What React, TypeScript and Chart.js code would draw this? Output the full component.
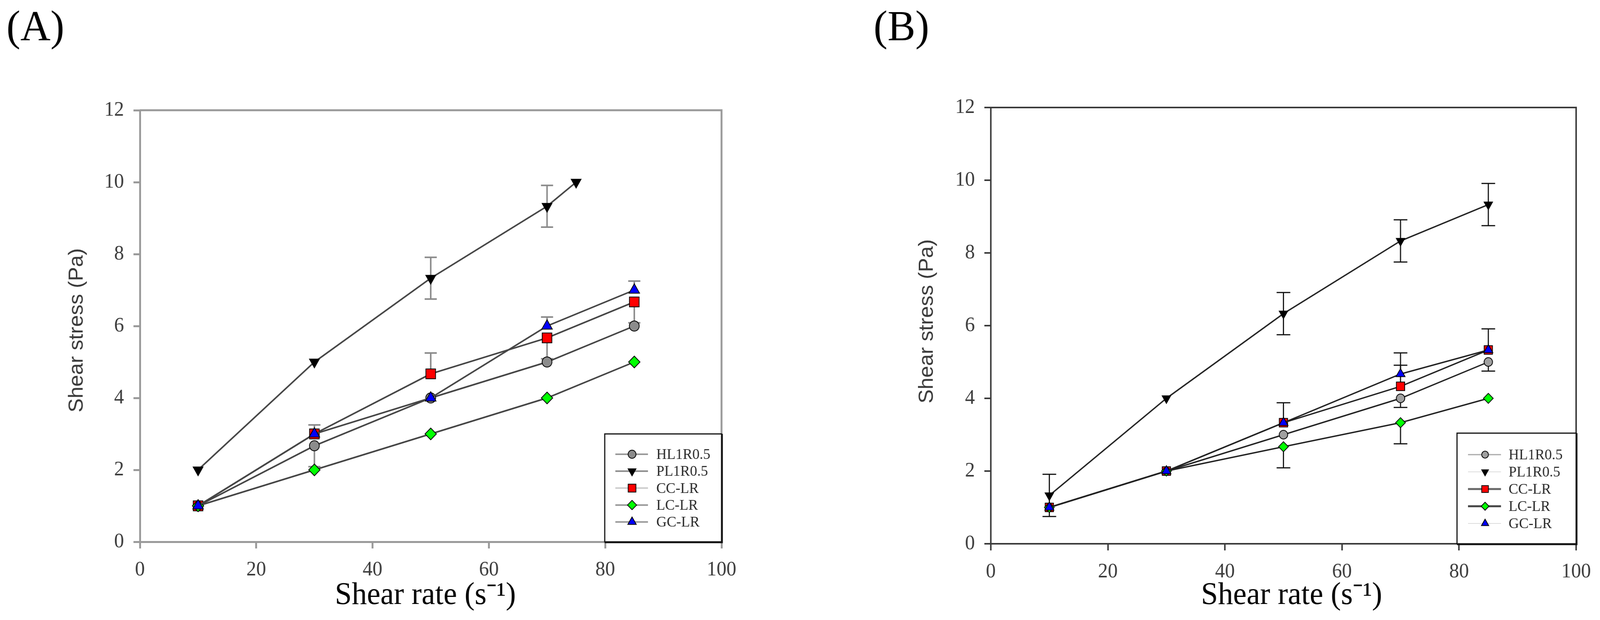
import { useEffect, useRef, useState } from "react";
import { Chart, registerables } from "chart.js";

Chart.register(...registerables);

// ---- data ----
const seriesNames = ["HL1R0.5", "PL1R0.5", "CC-LR", "LC-LR", "GC-LR"];
const shearRates = [10, 30, 50, 70, 85];
const shearRatesPlA = [10, 30, 50, 70, 75];
const xTicks = [0, 20, 40, 60, 80, 100];
const yTicks = [0, 2, 4, 6, 8, 10, 12];

// panel A
const hlA = [1, 2.67, 4, 5, 6];
const hlUpA = [0, 0, 0, 0, 0];
const hlDownA = [0, 0.58, 0, 0, 0];
const plA = [2, 5, 7.33, 9.33, 10];
const plUpA = [0, 0, 0.58, 0.58, 0];
const plDownA = [0, 0, 0.58, 0.58, 0];
const ccA = [1, 3, 4.67, 5.67, 6.67];
const ccUpA = [0, 0, 0.58, 0, 0];
const ccDownA = [0, 0, 0, 0.58, 0.58];
const lcA = [1, 2, 3, 4, 5];
const lcUpA = [0, 0, 0, 0, 0];
const lcDownA = [0, 0, 0, 0, 0];
const gcA = [1, 3, 4, 6, 7];
const gcUpA = [0, 0.25, 0, 0.25, 0.25];
const gcDownA = [0, 0, 0, 0, 0];

// panel B
const hlB = [1, 2, 3, 4, 5];
const hlUpB = [0, 0, 0, 0, 0];
const hlDownB = [0, 0, 0, 0.25, 0.25];
const plB = [1.33, 4, 6.33, 8.33, 9.33];
const plUpB = [0.58, 0, 0.58, 0.58, 0.58];
const plDownB = [0.58, 0, 0.58, 0.58, 0.58];
const ccB = [1, 2, 3.33, 4.33, 5.33];
const ccUpB = [0, 0, 0, 0.58, 0.58];
const ccDownB = [0, 0, 0, 0, 0];
const lcB = [1, 2, 2.67, 3.33, 4];
const lcUpB = [0, 0, 0, 0, 0];
const lcDownB = [0, 0, 0.58, 0.58, 0];
const gcB = [1, 2, 3.33, 4.67, 5.33];
const gcUpB = [0, 0, 0.55, 0.58, 0];
const gcDownB = [0, 0, 0, 0, 0];

// ---- styling ----
const SERIF = "'Liberation Serif', 'Times New Roman', serif";
const SANS = "'Liberation Sans', Arial, sans-serif";
const W = 4219;
const H = 1586;

type Style = "circle" | "triangle" | "rect" | "rectRot";

interface Series {
  name: string;
  xs: number[];
  ys: number[];
  up: number[];
  down: number[];
  style: Style;
  rotation: number;
  fill: string;
  radius: number;
}

interface PanelSpec {
  label: string;
  labelX: number;
  left: number;
  width: number;
  area: { left: number; right: number; top: number; bottom: number };
  axisColor: string;
  axisWidth: number;
  lineColor: string;
  lineWidth: number;
  errColor: string;
  errWidth: number;
  capWidth: number;
  markerScale: number;
  xTitleX: number;
  yTitleX: number;
  yTitleY: number;
  legend: { w: number; h: number; rowTop: number; rowStep: number; line0: number; line1: number; mark: number; text: number };
  legendLineColors: string[];
  legendLineWidths: number[];
  series: Series[];
}

function makeSeries(
  xsList: number[][],
  ys: number[][],
  up: number[][],
  down: number[][],
  hlFill: string
): Series[] {
  const styles: Style[] = ["circle", "triangle", "rect", "rectRot", "triangle"];
  const rotations = [0, 180, 0, 0, 0];
  const fills = [hlFill, "#000000", "#ff0000", "#00ff00", "#0000ff"];
  const radii = [13, 15, 18, 15, 16];
  return seriesNames.map((name, i) => ({
    name,
    xs: xsList[i],
    ys: ys[i],
    up: up[i],
    down: down[i],
    style: styles[i],
    rotation: rotations[i],
    fill: fills[i],
    radius: radii[i],
  }));
}

const panelA: PanelSpec = {
  label: "(A)",
  labelX: 17,
  left: 0,
  width: 2110,
  area: { left: 369, right: 1903, top: 282, bottom: 1386 },
  axisColor: "#9a9a9a",
  axisWidth: 5,
  lineColor: "#454545",
  lineWidth: 4,
  errColor: "#8a8a8a",
  errWidth: 4,
  capWidth: 32,
  markerScale: 1,
  xTitleX: 1122,
  yTitleX: 218,
  yTitleY: 845,
  legend: { w: 308, h: 276, rowTop: 52, rowStep: 43.3, line0: 28, line1: 114, mark: 72, text: 136 },
  legendLineColors: ["#999999", "#8a8a8a", "#cccccc", "#999999", "#999999"],
  legendLineWidths: [4, 4, 4, 4, 4],
  series: makeSeries(
    [shearRates, shearRatesPlA, shearRates, shearRates, shearRates],
    [hlA, plA, ccA, lcA, gcA],
    [hlUpA, plUpA, ccUpA, lcUpA, gcUpA],
    [hlDownA, plDownA, ccDownA, lcDownA, gcDownA],
    "#8c8c8c"
  ),
};

const panelB: PanelSpec = {
  label: "(B)",
  labelX: 194,
  left: 2110,
  width: 2109,
  area: { left: 503, right: 2053, top: 275, bottom: 1391 },
  axisColor: "#3a3a3a",
  axisWidth: 4,
  lineColor: "#222222",
  lineWidth: 3.5,
  errColor: "#111111",
  errWidth: 3,
  capWidth: 36,
  markerScale: 0.86,
  xTitleX: 1296,
  yTitleX: 350,
  yTitleY: 822,
  legend: { w: 314, h: 283, rowTop: 55, rowStep: 44, line0: 29, line1: 116, mark: 74, text: 136 },
  legendLineColors: ["#aaaaaa", "#dddddd", "#666666", "#444444", "#dddddd"],
  legendLineWidths: [3, 2, 5, 5, 2],
  series: makeSeries(
    [shearRates, shearRates, shearRates, shearRates, shearRates],
    [hlB, plB, ccB, lcB, gcB],
    [hlUpB, plUpB, ccUpB, lcUpB, gcUpB],
    [hlDownB, plDownB, ccDownB, lcDownB, gcDownB],
    "#a0a0a0"
  ),
};

function drawMarker(
  ctx: CanvasRenderingContext2D,
  style: Style,
  x: number,
  y: number,
  r: number,
  rot: number,
  fill: string
) {
  ctx.beginPath();
  if (style === "circle") {
    ctx.arc(x, y, r, 0, Math.PI * 2);
  } else if (style === "rect") {
    const s = r * Math.SQRT1_2;
    ctx.rect(x - s, y - s, 2 * s, 2 * s);
  } else if (style === "rectRot") {
    ctx.moveTo(x, y - r);
    ctx.lineTo(x + r, y);
    ctx.lineTo(x, y + r);
    ctx.lineTo(x - r, y);
    ctx.closePath();
  } else {
    const a0 = (rot * Math.PI) / 180;
    for (let k = 0; k < 3; k++) {
      const a = a0 + (k * 2 * Math.PI) / 3;
      const px = x + Math.sin(a) * r;
      const py = y - Math.cos(a) * r;
      if (k === 0) ctx.moveTo(px, py);
      else ctx.lineTo(px, py);
    }
    ctx.closePath();
  }
  ctx.fillStyle = fill;
  ctx.fill();
  ctx.lineWidth = 2;
  ctx.strokeStyle = "#000";
  ctx.stroke();
}

function Panel({ spec, sx }: { spec: PanelSpec; sx: number }) {
  const canvasRef = useRef<HTMLCanvasElement | null>(null);
  const chartRef = useRef<Chart | null>(null);

  useEffect(() => {
    if (!canvasRef.current) return;
    chartRef.current?.destroy();

    const { area } = spec;

    // error bars, drawn under the lines and markers
    const errorBars = {
      id: "errorBars",
      beforeDatasetsDraw(chart: Chart) {
        const ctx = chart.ctx;
        const xs = chart.scales.x;
        const ys = chart.scales.y;
        ctx.save();
        ctx.strokeStyle = spec.errColor;
        ctx.lineWidth = spec.errWidth;
        spec.series.forEach((s) => {
          s.xs.forEach((xv, j) => {
            const px = xs.getPixelForValue(xv);
            const py = ys.getPixelForValue(s.ys[j]);
            const ends: number[] = [];
            if (s.up[j] > 0) ends.push(ys.getPixelForValue(s.ys[j] + s.up[j]));
            if (s.down[j] > 0) ends.push(ys.getPixelForValue(s.ys[j] - s.down[j]));
            ends.forEach((pe) => {
              ctx.beginPath();
              ctx.moveTo(px, py);
              ctx.lineTo(px, pe);
              ctx.moveTo(px - spec.capWidth / 2, pe);
              ctx.lineTo(px + spec.capWidth / 2, pe);
              ctx.stroke();
            });
          });
        });
        ctx.restore();
      },
    };

    // top and right edges of the frame
    const frame = {
      id: "frame",
      beforeDatasetsDraw(chart: Chart) {
        const ctx = chart.ctx;
        const ca = chart.chartArea;
        ctx.save();
        ctx.strokeStyle = spec.axisColor;
        ctx.lineWidth = spec.axisWidth;
        ctx.beginPath();
        ctx.moveTo(ca.left, ca.top);
        ctx.lineTo(ca.right, ca.top);
        ctx.lineTo(ca.right, ca.bottom);
        ctx.stroke();
        ctx.restore();
      },
    };

    // legend box, titles and panel letter
    const overlay = {
      id: "overlay",
      afterDraw(chart: Chart) {
        const ctx = chart.ctx;
        const ca = chart.chartArea;
        const lg = spec.legend;
        const bx = ca.right - lg.w;
        const by = ca.bottom - lg.h;
        ctx.save();
        ctx.fillStyle = "#fff";
        ctx.fillRect(bx, by, lg.w, lg.h);
        ctx.strokeStyle = "#111";
        ctx.lineWidth = 3;
        ctx.strokeRect(bx, by, lg.w, lg.h);
        ctx.beginPath();
        ctx.moveTo(bx + lg.w + 2, by);
        ctx.lineTo(bx + lg.w + 2, by + lg.h + 2);
        ctx.lineTo(bx, by + lg.h + 2);
        ctx.stroke();

        spec.series.forEach((s, i) => {
          const ry = by + lg.rowTop + i * lg.rowStep;
          ctx.strokeStyle = spec.legendLineColors[i];
          ctx.lineWidth = spec.legendLineWidths[i];
          ctx.beginPath();
          ctx.moveTo(bx + lg.line0, ry);
          ctx.lineTo(bx + lg.line1, ry);
          ctx.stroke();
          drawMarker(ctx, s.style, bx + lg.mark, ry, s.radius * spec.markerScale * 0.8, s.rotation, s.fill);
          ctx.fillStyle = "#2a2a2a";
          ctx.font = `38px ${SERIF}`;
          ctx.textAlign = "left";
          ctx.textBaseline = "middle";
          ctx.fillText(s.name, bx + lg.text, ry + 2);
        });

        ctx.fillStyle = "#000";
        ctx.font = `110px ${SERIF}`;
        ctx.textAlign = "left";
        ctx.textBaseline = "alphabetic";
        ctx.fillText(spec.label, spec.labelX, 103);

        ctx.font = `80px ${SERIF}`;
        ctx.textAlign = "center";
        ctx.fillText("Shear rate (s\u207B\u00B9)", spec.xTitleX, 1545);

        ctx.translate(spec.yTitleX, spec.yTitleY);
        ctx.rotate(-Math.PI / 2);
        ctx.fillStyle = "#3a3a3a";
        ctx.font = `54px ${SANS}`;
        ctx.textAlign = "center";
        ctx.fillText("Shear stress (Pa)", 0, 0);
        ctx.restore();
      },
    };

    const axisCommon = {
      type: "linear" as const,
      grid: {
        drawOnChartArea: false,
        drawTicks: true,
        tickLength: 17,
        color: spec.axisColor,
        lineWidth: spec.axisWidth,
      },
      border: { display: true, color: spec.axisColor, width: spec.axisWidth },
    };

    chartRef.current = new Chart(canvasRef.current, {
      type: "scatter",
      data: {
        datasets: spec.series.map((s, i) => ({
          label: s.name,
          data: s.xs.map((x, j) => ({ x, y: s.ys[j] })),
          showLine: true,
          borderColor: spec.lineColor,
          borderWidth: spec.lineWidth,
          pointStyle: s.style,
          pointRotation: s.rotation,
          pointRadius: s.radius * spec.markerScale,
          pointBackgroundColor: s.fill,
          pointBorderColor: "#000",
          pointBorderWidth: 2,
          order: seriesNames.length - i,
        })),
      },
      options: {
        animation: false,
        responsive: false,
        devicePixelRatio: 1,
        layout: {
          padding: { left: 0, top: area.top, right: spec.width - area.right, bottom: 0 },
        },
        plugins: { legend: { display: false }, tooltip: { enabled: false } },
        scales: {
          x: {
            ...axisCommon,
            min: xTicks[0],
            max: xTicks[xTicks.length - 1],
            ticks: {
              stepSize: xTicks[1] - xTicks[0],
              font: { family: SERIF, size: 52 },
              color: "#3c3c3c",
              padding: 24,
            },
            afterFit: (scale: any) => {
              scale.height = H - area.bottom;
            },
          },
          y: {
            ...axisCommon,
            min: yTicks[0],
            max: yTicks[yTicks.length - 1],
            ticks: {
              stepSize: yTicks[1] - yTicks[0],
              font: { family: SERIF, size: 52 },
              color: "#3c3c3c",
              padding: 25,
            },
            afterFit: (scale: any) => {
              scale.width = area.left;
            },
          },
        },
      } as any,
      plugins: [frame, errorBars, overlay],
    });

    return () => {
      chartRef.current?.destroy();
      chartRef.current = null;
    };
  }, [spec]);

  // the canvas keeps the reference's pixel grid; css squeezes it to the viewport width
  return (
    <canvas
      ref={canvasRef}
      width={spec.width}
      height={H}
      style={{
        position: "absolute",
        left: spec.left * sx,
        top: 0,
        width: spec.width * sx,
        height: H,
        display: "block",
      }}
    />
  );
}

export default function App() {
  const [sx] = useState(() => Math.min(1, window.innerWidth / W));
  return (
    <div
      style={{
        position: "fixed",
        left: 0,
        top: 0,
        width: W * sx,
        height: H,
        background: "#fff",
        overflow: "hidden",
      }}
    >
      <Panel spec={panelA} sx={sx} />
      <Panel spec={panelB} sx={sx} />
    </div>
  );
}
